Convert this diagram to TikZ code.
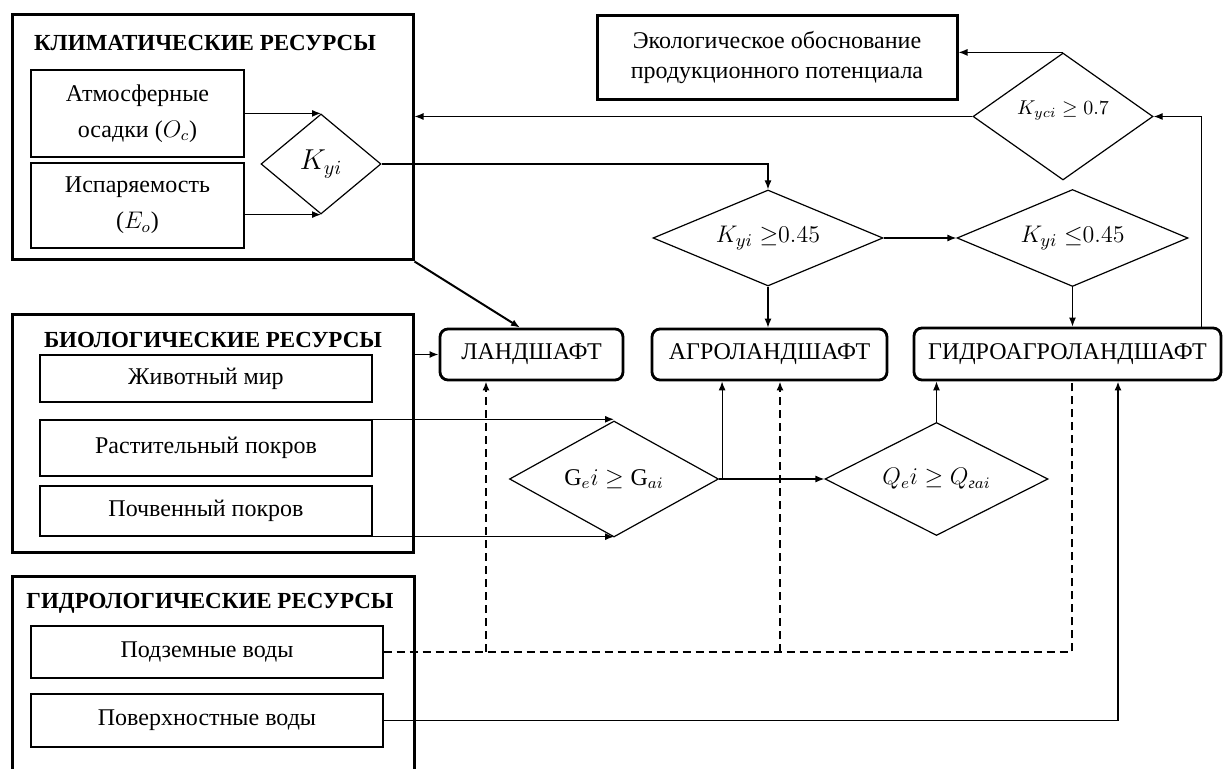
\documentclass[tikz,border=0pt]{standalone}
\usepackage{amsmath}
\usepackage{amssymb}
\usepackage{fontspec}
\setmainfont{Liberation Serif}
\usetikzlibrary{shapes.geometric,arrows.meta,positioning}

\begin{document}
\begin{tikzpicture}[x=0.5pt,y=-0.5pt,
	every node/.style={font=\fontsize{12}{18}\selectfont},
	group/.style={draw,line width=1.5pt,inner sep=0pt},
	item/.style={draw,line width=0.7pt,inner sep=0pt,align=center},
	landbox/.style={draw,line width=1.4pt,rounded corners=4pt,minimum height=25.5pt,inner sep=0pt},
	cond/.style={draw,diamond,line width=0.6pt,inner sep=0pt,shape aspect=2.4},
	title/.style={font=\bfseries\fontsize{11.5}{14}\selectfont},
	arr/.style={-{Latex[length=4.5pt,width=3.5pt]},line width=0.6pt},
	dashline/.style={line width=1pt,dash pattern=on 4pt off 2.5pt},
	dasharr/.style={arr,dashline}]
	\useasboundingbox (0,0) rectangle (1226,769);
	\clip (0,0) rectangle (1226,769);

	% climatic resources
	\node[group,minimum width=200.5pt,minimum height=122.5pt] (clim) at (212.5,137.5) {};
	\node[title,anchor=west] (climT) at (27,43) {КЛИМАТИЧЕСКИЕ РЕСУРСЫ};
	\node[item,minimum width=106.5pt,minimum height=43.5pt] (atmo) at (137.5,113.5) {Атмосферные\\осадки ($O_c$)};
	\node[item,minimum width=106.5pt,minimum height=42.5pt] (evap) at (137.5,205.5) {Испаряемость\\($E_o$)};
	\node[cond,minimum width=60pt,minimum height=50pt,font=\fontsize{14}{16}\selectfont] (kyi) at (321,164) {$K_{yi}$};

	% conditions
	\node[group,minimum width=180pt,minimum height=42pt,align=center,font=\fontsize{12}{15}\selectfont] (eco) at (777,58) {Экологическое обоснование\\продукционного потенциала};
	\node[cond,minimum width=90pt,minimum height=63.5pt,font=\fontsize{10}{12}\selectfont] (kyci) at (1063,116.5) {\raisebox{9pt}{$K_{yci}\geq 0.7$}};
	\node[cond,minimum width=115pt,minimum height=48pt,font=\fontsize{13}{15}\selectfont] (kge) at (768,238) {$K_{yi}\ {\geq}0.45$};
	\node[cond,minimum width=115.5pt,minimum height=48.5pt,font=\fontsize{13}{15}\selectfont] (kle) at (1072.5,238) {$K_{yi}\ {\leq}0.45$};

	% landscapes
	\node[landbox,minimum width=91.5pt] (landsc) at (531.5,354.5) {ЛАНДШАФТ};
	\node[landbox,minimum width=117.5pt] (agro) at (769.5,354.5) {АГРОЛАНДШАФТ};
	\node[landbox,minimum width=153.5pt,minimum height=26pt] (hydroland) at (1067.5,354) {ГИДРОАГРОЛАНДШАФТ};

	% biological resources
	\node[group,minimum width=200.5pt,minimum height=119pt] (bio) at (212.5,434) {};
	\node[title] (bioT) at (213,340) {БИОЛОГИЧЕСКИЕ РЕСУРСЫ};
	\node[item,minimum width=166pt,minimum height=23.5pt] (fauna) at (206,378.5) {Животный мир};
	\node[item,minimum width=166pt,minimum height=28pt] (plant) at (206,448) {Растительный покров};
	\node[item,minimum width=166pt,minimum height=25pt] (soil) at (206,511) {Почвенный покров};
	\node[cond,minimum width=104.5pt,minimum height=58pt] (gcond) at (614,479) {$\mathrm{G}_e i\geq \mathrm{G}_{ai}$};
	\node[cond,minimum width=111.5pt,minimum height=56.5pt] (qcond) at (936.5,479) {$Q_e i\geq Q_{\text{\itshape г}ai}$};

	% hydrological resources
	\node[group,minimum width=201pt,minimum height=111.5pt] (hydro) at (213,688.5) {};
	\node[title] (hydroT) at (210,603) {ГИДРОЛОГИЧЕСКИЕ РЕСУРСЫ};
	\node[item,minimum width=176pt,minimum height=26pt] (ground) at (207,652) {Подземные воды};
	\node[item,minimum width=176pt,minimum height=26.5pt] (surface) at (207,720.5) {Поверхностные воды};

	\coordinate (gsplit) at ([xshift=1.5pt]gcond.east);
	\coordinate (dl) at ([xshift=-22.75pt]landsc.south);
	\coordinate (da) at ([xshift=5.25pt]agro.south);
	\coordinate (dh) at ([xshift=2.25pt]hydroland.south);

	\draw[arr] (atmo.east |- kyi.north) -- (kyi.north);
	\draw[arr] (evap.east |- kyi.south) -- (kyi.south);
	\draw[arr] (kyi.east) -| (kge.north);
	\draw[arr] (kge.east) -- (kle.west);
	\draw[arr] (kge.south) -- (kge.south |- agro.north);
	\draw[arr] (kle.south) -- (kle.south |- hydroland.north);
	\draw[arr] ([xshift=-10.5pt]hydroland.north east) |- (kyci.east);
	\draw[arr] (kyci.north) -- (kyci.north -| eco.east);
	\draw[arr] (kyci.west) -- (kyci.west -| clim.east);
	\draw[arr,line width=1pt] (clim.south east) -- ([xshift=-5.75pt]landsc.north);
	\draw[arr,line width=0.8pt] (bio.east |- landsc.west) -- (landsc.west);
	\draw[arr] (plant.north east) -- (plant.north east -| gcond.north);
	\draw[arr] (soil.south east) -- (soil.south east -| gcond.south);
	\draw[arr] (gcond.east) -- (qcond.west);
	\draw[arr] (gsplit) -- (gsplit |- agro.south);
	\draw[arr] (qcond.north) -- (qcond.north |- hydroland.south);
	\draw[arr,line width=0.9pt] (surface.east) -| ([xshift=25.25pt]hydroland.south);
	\draw[dashline] (ground.east) -| (dh);
	\draw[dasharr] (dl |- ground.east) -- (dl);
	\draw[dasharr] (da |- ground.east) -- (da);
\end{tikzpicture}
\end{document}
